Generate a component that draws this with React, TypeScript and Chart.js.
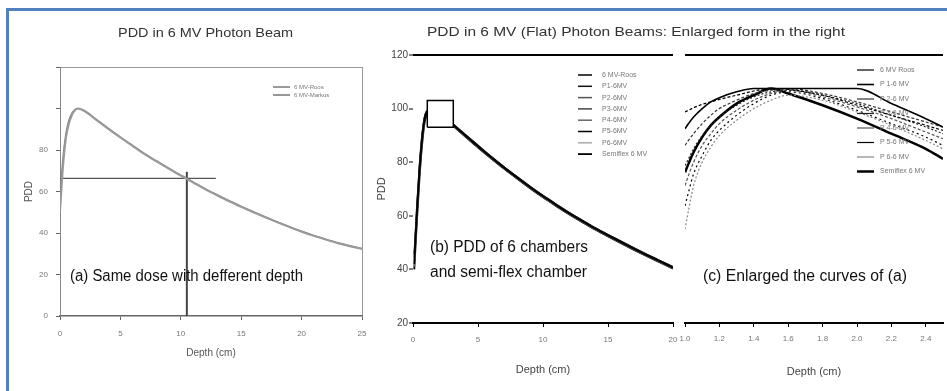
import React, { useEffect, useRef } from "react";
import { Chart, registerables } from "chart.js";
Chart.register(...registerables);

const FONT = "'Liberation Sans', Arial, sans-serif";
Chart.defaults.font.family = FONT;

// ---------- Panel (a) data ----------
const depthA = [0, 0.25, 0.5, 0.75, 1, 1.25, 1.5, 2, 3, 4, 5, 6, 7, 8, 9, 10, 11, 12, 13, 14, 15, 16, 17, 18, 19, 20, 21, 22, 23, 24, 25];
const pddA_Roos = [50, 72, 86, 93, 97, 99.3, 100, 98.8, 94.5, 90.2, 86, 82, 78, 74.5, 71, 67.6, 64.4, 61.2, 58.2, 55.3, 52.6, 50, 47.5, 45.1, 42.8, 40.6, 38.6, 36.8, 35.1, 33.6, 32.3];
const pddA_Markus = [57, 76, 88, 94.5, 97.8, 99.5, 100, 99.0, 94.7, 90.4, 86.2, 82.2, 78.2, 74.7, 71.2, 67.8, 64.6, 61.4, 58.4, 55.5, 52.8, 50.2, 47.7, 45.3, 43.0, 40.8, 38.8, 37.0, 35.3, 33.8, 32.5];
const legendA = ["6 MV-Roos", "6 MV-Markus"];
const sameDoseX = [0, 12.9];
const sameDoseY = [66.3, 66.3];
const sameDepthX = [10.5, 10.5];
const sameDepthY = [0, 69.5];
const ticksA_X = [0, 5, 10, 15, 20, 25];
const ticksA_Y = [0, 20, 40, 60, 80];

// ---------- Panel (b) data ----------
const depthB = [0.1, 0.3, 0.5, 0.7, 0.9, 1.2, 1.5, 2, 3, 4, 5, 6, 7, 8, 9, 10, 11, 12, 13, 14, 15, 16, 17, 18, 19, 20];
const roosB = [42.0, 60.0, 76.0, 88.0, 96.0, 99.2, 100, 98.6, 94.2, 90.0, 85.8, 81.8, 77.9, 74.2, 70.6, 67.2, 64.0, 60.9, 58.0, 55.2, 52.6, 50.1, 47.6, 45.2, 42.9, 40.6];
const p1B = [44.5, 62.5, 78.0, 89.5, 96.8, 99.5, 100, 98.8, 94.5, 90.3, 86.1, 82.0, 78.2, 74.4, 70.9, 67.4, 64.3, 61.1, 58.3, 55.4, 52.9, 50.3, 47.9, 45.4, 43.2, 40.9];
const p2B = [43.0, 61.0, 77.0, 88.8, 96.4, 99.3, 100, 98.7, 94.0, 89.8, 85.6, 81.6, 77.7, 74.0, 70.4, 67.0, 63.8, 60.7, 57.8, 55.0, 52.4, 49.9, 47.4, 45.0, 42.7, 40.4];
const p3B = [45.5, 63.0, 78.5, 90.0, 97.0, 99.6, 100, 98.9, 94.4, 90.1, 86.0, 81.9, 78.0, 74.3, 70.7, 67.3, 64.1, 61.0, 58.1, 55.3, 52.7, 50.2, 47.7, 45.3, 43.0, 40.7];
const p4B = [41.0, 59.0, 75.0, 87.3, 95.6, 99.0, 100, 98.5, 94.1, 89.9, 85.7, 81.7, 77.8, 74.1, 70.5, 67.1, 63.9, 60.8, 57.9, 55.1, 52.5, 50.0, 47.5, 45.1, 42.8, 40.5];
const p5B = [46.0, 64.0, 79.0, 90.5, 97.2, 99.7, 100, 99.0, 94.6, 90.4, 86.3, 82.2, 78.3, 74.6, 71.0, 67.6, 64.4, 61.3, 58.4, 55.6, 53.0, 50.5, 48.0, 45.6, 43.3, 41.0];
const p6B = [43.5, 61.5, 77.5, 89.0, 96.5, 99.4, 100, 98.7, 94.3, 90.0, 85.9, 81.8, 78.0, 74.2, 70.7, 67.2, 64.0, 61.0, 58.0, 55.2, 52.6, 50.1, 47.6, 45.2, 42.9, 40.6];
const semiB = [40.0, 58.0, 74.0, 86.5, 95.0, 98.8, 100, 98.4, 93.9, 89.7, 85.5, 81.5, 77.6, 73.9, 70.3, 66.9, 63.7, 60.6, 57.7, 54.9, 52.3, 49.8, 47.3, 44.9, 42.6, 40.3];
const legendB = ["6 MV-Roos", "P1-6MV", "P2-6MV", "P3-6MV", "P4-6MV", "P5-6MV", "P6-6MV", "Semiflex 6 MV"];
const zoomBoxX = [1.1, 1.1, 3.1, 3.1, 1.1];
const zoomBoxY = [93, 103, 103, 93, 93];

// ---------- Panel (c) data ----------
const depthC = [1.0, 1.02, 1.05, 1.1, 1.15, 1.2, 1.3, 1.4, 1.5, 1.6, 1.8, 2.0, 2.2, 2.4, 2.5];
const roosC = [98.6, 98.7, 98.85, 99.05, 99.2, 99.35, 99.6, 99.85, 100, 99.95, 99.6, 99.0, 98.4, 97.8, 97.5];
const p1C = [97.6, 97.9, 98.3, 98.8, 99.2, 99.45, 99.8, 100, 100, 100, 100, 100, 99.1, 98.2, 97.7];
const p2C = [96.6, 96.9, 97.3, 97.9, 98.4, 98.8, 99.3, 99.7, 99.9, 100, 99.7, 99.2, 98.6, 98.0, 97.7];
const p3C = [95.4, 95.8, 96.4, 97.2, 97.8, 98.3, 99.0, 99.5, 99.8, 99.9, 99.6, 99.1, 98.4, 97.7, 97.3];
const p4C = [94.2, 94.8, 95.6, 96.6, 97.3, 97.9, 98.7, 99.3, 99.7, 99.9, 99.5, 98.9, 98.2, 97.4, 97.0];
const p5C = [93.0, 93.8, 94.9, 96.0, 96.9, 97.5, 98.4, 99.1, 99.6, 99.8, 99.4, 98.7, 97.9, 97.1, 96.6];
const p6C = [91.6, 92.7, 94.2, 95.6, 96.5, 97.2, 98.1, 98.8, 99.3, 99.6, 99.3, 98.6, 97.8, 96.9, 96.4];
const semiC = [95.0, 95.5, 96.2, 97.1, 97.8, 98.3, 99.1, 99.6, 100, 99.7, 99.0, 98.2, 97.3, 96.4, 95.8];
const legendC = ["6 MV Roos", "P 1-6 MV", "P 2-6 MV", "P 3-6 MV", "P 4-6 MV", "P 5-6 MV", "P 6-6 MV", "Semiflex 6 MV"];

// ---------- helpers ----------
const pts = (xs: number[], ys: number[]) => xs.map((x, i) => ({ x, y: ys[i] }));

type TextItem = { text: string; x: number; y: number; size: number; color: string; width?: number };

function textPlugin(id: string, items: TextItem[]) {
  return {
    id,
    afterDraw(chart: any) {
      const ctx = chart.ctx as CanvasRenderingContext2D;
      for (const t of items) {
        ctx.save();
        ctx.font = `${t.size}px ${FONT}`;
        ctx.fillStyle = t.color;
        ctx.textAlign = "left";
        ctx.textBaseline = "middle";
        const w = ctx.measureText(t.text).width;
        ctx.translate(t.x, t.y);
        if (t.width) ctx.scale(t.width / w, 1);
        ctx.fillText(t.text, 0, 0);
        ctx.restore();
      }
    },
  };
}

type LegendCfg = { x: number; y: number; dy: number; len: number; gap: number; size: number; color: string; labels: string[] };

function legendPlugin(id: string, cfg: LegendCfg) {
  return {
    id,
    afterDraw(chart: any) {
      const ctx = chart.ctx as CanvasRenderingContext2D;
      cfg.labels.forEach((label, i) => {
        const ds = chart.data.datasets[i];
        const y = cfg.y + i * cfg.dy;
        ctx.save();
        ctx.strokeStyle = ds.borderColor;
        ctx.lineWidth = Math.max(1.2, ds.borderWidth || 1);
        ctx.beginPath();
        ctx.moveTo(cfg.x, y);
        ctx.lineTo(cfg.x + cfg.len, y);
        ctx.stroke();
        ctx.font = `${cfg.size}px ${FONT}`;
        ctx.fillStyle = cfg.color;
        ctx.textBaseline = "middle";
        ctx.fillText(label, cfg.x + cfg.len + cfg.gap, y);
        ctx.restore();
      });
    },
  };
}

const transparent = "rgba(0,0,0,0)";

function curve(label: string, xs: number[], ys: number[], color: string, width: number, dash: number[] = []) {
  return {
    label,
    data: pts(xs, ys),
    borderColor: color,
    backgroundColor: color,
    borderWidth: width,
    borderDash: dash,
    pointRadius: 0,
    fill: false,
    cubicInterpolationMode: "monotone" as const,
  };
}

export default function App() {
  const refA = useRef<HTMLCanvasElement>(null);
  const refB = useRef<HTMLCanvasElement>(null);
  const refC = useRef<HTMLCanvasElement>(null);

  useEffect(() => {
    const charts: Chart[] = [];

    // ---------------- Chart A ----------------
    charts.push(
      new Chart(refA.current!, {
        type: "line",
        data: {
          datasets: [
            curve(legendA[0], depthA, pddA_Roos, "#9a9a9a", 2),
            curve(legendA[1], depthA, pddA_Markus, "#7d7d7d", 1.6),
            { ...curve("same dose", sameDoseX, sameDoseY, "#555", 1.2), cubicInterpolationMode: "default" as const, tension: 0 },
            { ...curve("same depth", sameDepthX, sameDepthY, "#444", 2), cubicInterpolationMode: "default" as const, tension: 0 },
          ],
        },
        options: {
          responsive: false,
          animation: false,
          events: [],
          layout: { padding: { left: 15, top: 67, right: 947 - 362, bottom: 30 } },
          plugins: { legend: { display: false }, tooltip: { enabled: false }, title: { display: false } },
          scales: {
            x: {
              type: "linear",
              min: 0,
              max: 25,
              afterFit: (s: any) => { s.height = 45; },
              afterBuildTicks: (s: any) => { s.ticks = ticksA_X.map((v) => ({ value: v })); },
              ticks: { font: { size: 8 }, color: "#777", padding: 9 },
              grid: {
                drawOnChartArea: true,
                color: (c: any) => (c.tick && c.tick.value === 25 ? "#999" : transparent),
                tickColor: "#666",
                tickLength: 4,
              },
              border: { display: true, color: "#666", width: 1.5 },
              title: { display: true, text: "Depth (cm)", font: { size: 10 }, color: "#555", padding: { top: 0, bottom: 2 } },
            },
            y: {
              type: "linear",
              min: 0,
              max: 120,
              afterFit: (s: any) => { s.width = 45; },
              ticks: {
                stepSize: 20,
                font: { size: 8 },
                color: "#777",
                padding: 8,
                callback: (v: any) => (ticksA_Y.includes(Number(v)) ? String(v) : ""),
              },
              grid: {
                drawOnChartArea: true,
                color: (c: any) => (c.tick && c.tick.value === 120 ? "#999" : transparent),
                tickColor: "#666",
                tickLength: 4,
              },
              border: { display: true, color: "#888", width: 1 },
              title: { display: true, text: "PDD", font: { size: 10 }, color: "#555", padding: { top: 8, bottom: 0 } },
            },
          },
        },
        plugins: [
          textPlugin("textsA", [
            { text: "PDD in 6 MV Photon Beam", x: 118, y: 33, size: 13, color: "#333", width: 175 },
            { text: "(a) Same dose with defferent depth", x: 70, y: 277, size: 16, color: "#111", width: 233 },
          ]),
          legendPlugin("legendA", { x: 273, y: 87, dy: 8, len: 17, gap: 4, size: 6, color: "#777", labels: legendA }),
        ],
      } as any)
    );

    // ---------------- Chart B ----------------
    charts.push(
      new Chart(refB.current!, {
        type: "line",
        data: {
          datasets: [
            curve(legendB[0], depthB, roosB, "#000", 1.5),
            curve(legendB[1], depthB, p1B, "#111", 1.5),
            curve(legendB[2], depthB, p2B, "#555", 1.5),
            curve(legendB[3], depthB, p3B, "#444", 1.5),
            curve(legendB[4], depthB, p4B, "#666", 1.5),
            curve(legendB[5], depthB, p5B, "#000", 1.5),
            curve(legendB[6], depthB, p6B, "#aaa", 1.5),
            curve(legendB[7], depthB, semiB, "#000", 1.8),
            {
              label: "zoom box",
              data: pts(zoomBoxX, zoomBoxY),
              borderColor: "#000",
              borderWidth: 1.5,
              backgroundColor: "#fff",
              fill: "shape",
              pointRadius: 0,
              tension: 0,
              order: -1,
            },
          ],
        },
        options: {
          responsive: false,
          animation: false,
          events: [],
          layout: { padding: { left: 370, top: 55, right: 947 - 673, bottom: 10 } },
          plugins: { legend: { display: false }, tooltip: { enabled: false }, title: { display: false } },
          scales: {
            x: {
              type: "linear",
              min: 0,
              max: 20,
              afterFit: (s: any) => { s.height = 58; },
              ticks: { stepSize: 5, font: { size: 8 }, color: "#777", padding: 8 },
              grid: { drawOnChartArea: false, color: "#000", tickColor: "#000", tickLength: 4 },
              border: { display: true, color: "#000", width: 2 },
              title: { display: true, text: "Depth (cm)", font: { size: 11 }, color: "#444", padding: { top: 0, bottom: 4 } },
            },
            y: {
              type: "linear",
              min: 20,
              max: 120,
              afterFit: (s: any) => { s.width = 43; },
              ticks: { stepSize: 20, font: { size: 10 }, color: "#444", padding: 1 },
              grid: {
                drawOnChartArea: true,
                color: (c: any) => (c.tick && c.tick.value === 120 ? "#000" : transparent),
                lineWidth: 2,
                tickColor: "#000",
                tickWidth: 1,
                tickLength: 4,
              },
              border: { display: false },
              title: { display: true, text: "PDD", font: { size: 11 }, color: "#444", padding: { top: 5, bottom: 0 } },
            },
          },
        },
        plugins: [
          textPlugin("textsB", [
            { text: "PDD in 6 MV (Flat) Photon Beams: Enlarged form in the right", x: 427, y: 32, size: 13, color: "#333", width: 418 },
            { text: "(b) PDD of 6 chambers", x: 430, y: 248, size: 16, color: "#111", width: 158 },
            { text: "and semi-flex chamber", x: 430, y: 273, size: 16, color: "#111", width: 157 },
          ]),
          legendPlugin("legendB", { x: 578, y: 75, dy: 11.3, len: 14, gap: 10, size: 7, color: "#777", labels: legendB }),
        ],
      } as any)
    );

    // ---------------- Chart C ----------------
    charts.push(
      new Chart(refC.current!, {
        type: "line",
        data: {
          datasets: [
            curve(legendC[0], depthC, roosC, "#000", 1.2, [3, 2]),
            curve(legendC[1], depthC, p1C, "#000", 1.6),
            curve(legendC[2], depthC, p2C, "#333", 1.2, [3, 2]),
            curve(legendC[3], depthC, p3C, "#222", 1.2, [2, 2]),
            curve(legendC[4], depthC, p4C, "#555", 1.2, [3, 2]),
            curve(legendC[5], depthC, p5C, "#000", 1.2, [2, 3]),
            curve(legendC[6], depthC, p6C, "#888", 1.2, [2, 2]),
            curve(legendC[7], depthC, semiC, "#000", 2.5),
          ],
        },
        options: {
          responsive: false,
          animation: false,
          events: [],
          layout: { padding: { left: 685, top: 55, right: 4, bottom: 10 } },
          plugins: { legend: { display: false }, tooltip: { enabled: false }, title: { display: false } },
          scales: {
            x: {
              type: "linear",
              min: 1.0,
              max: 2.5,
              afterFit: (s: any) => { s.height = 58; },
              ticks: {
                stepSize: 0.2,
                includeBounds: false,
                font: { size: 8 },
                color: "#777",
                padding: 7,
                callback: (v: any) => Number(v).toFixed(1),
              },
              grid: { drawOnChartArea: false, color: "#000", tickColor: "#000", tickLength: 4 },
              border: { display: true, color: "#000", width: 2 },
              title: { display: true, text: "Depth (cm)", font: { size: 11 }, color: "#444", padding: { top: 0, bottom: 2 } },
            },
            y: {
              type: "linear",
              min: 86,
              max: 102,
              afterFit: (s: any) => { s.width = 0; },
              ticks: { stepSize: 2, display: false },
              grid: {
                drawOnChartArea: true,
                drawTicks: false,
                color: (c: any) => (c.tick && c.tick.value === 102 ? "#000" : transparent),
                lineWidth: 2,
              },
              border: { display: false },
            },
          },
        },
        plugins: [
          textPlugin("textsC", [
            { text: "(c) Enlarged the curves of (a)", x: 703, y: 277, size: 16, color: "#111", width: 204 },
          ]),
          legendPlugin("legendC", { x: 857, y: 70, dy: 14.5, len: 17, gap: 6, size: 7, color: "#777", labels: legendC }),
        ],
      } as any)
    );

    return () => charts.forEach((c) => c.destroy());
  }, []);

  const cv: React.CSSProperties = { position: "absolute", left: 0, top: 0, width: 947, height: 391 };
  return (
    <div style={{ position: "absolute", left: 0, top: 0, width: 947, height: 391, overflow: "hidden", background: "#fff" }}>
      <div
        style={{
          position: "absolute",
          left: 6,
          top: 8,
          width: 960,
          height: 400,
          border: "3px solid #4F81BD",
          boxSizing: "border-box",
        }}
      />
      <canvas ref={refA} width={947} height={391} style={cv} />
      <canvas ref={refB} width={947} height={391} style={cv} />
      <canvas ref={refC} width={947} height={391} style={cv} />
    </div>
  );
}
